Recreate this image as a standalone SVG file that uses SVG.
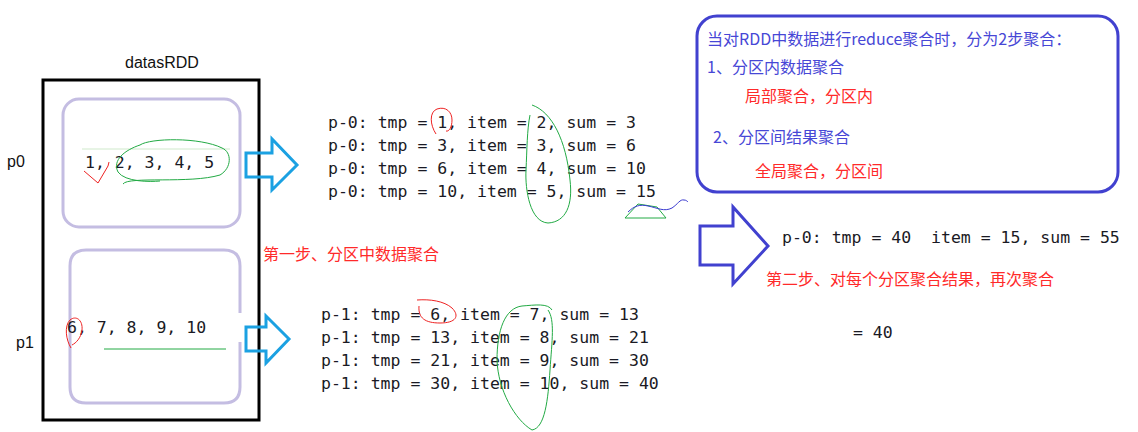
<svg xmlns="http://www.w3.org/2000/svg" width="1138" height="432" viewBox="0 0 1138 432">
<style>
.code{font-family:"DejaVu Sans Mono","Liberation Mono",monospace;font-size:16.5px;fill:#1a1a24}
.lbl{font-family:"Liberation Sans","Noto Sans CJK SC",sans-serif;font-size:16px;fill:#111}
.cn{font-family:"Noto Sans CJK SC","Liberation Sans",sans-serif;font-size:16px}
.red{fill:#ff2a2a}
.blu{fill:#4747d6}
.part{fill:none;stroke:#c4bde2;stroke-width:3}
.sky{fill:none;stroke:#1ba1e2;stroke-width:3;stroke-linejoin:miter}
.ink-r{fill:none;stroke:#ee2222;stroke-width:1}
.ink-g{fill:none;stroke:#22aa44;stroke-width:1}
.ink-b{fill:none;stroke:#3a3ad0;stroke-width:1}
</style>
<rect width="1138" height="432" fill="#fff"/>

<g id="datasRDD">
<text class="lbl" x="125" y="68">datasRDD</text>
<rect x="43" y="80" width="216" height="340" fill="none" stroke="#000" stroke-width="3"/>
</g>

<g id="p0">
<text class="lbl" x="7" y="167">p0</text>
<rect class="part" x="63" y="99" width="177" height="128" rx="16"/>
<line x1="82" y1="149" x2="230" y2="149" stroke="#dff0dc" stroke-width="1.5"/>
<text class="code" x="85" y="168">1, 2, 3, 4, 5</text>
<path class="ink-r" d="M84 171 L98 183 L108 166 L109 162"/>
<path class="ink-g" d="M123 184 C128 176,190 184,220 175 C232 168,232 152,222 148 C200 137,150 138,140 145 C125 150,112 160,118 172 C125 182,150 182,160 181"/>
</g>

<g id="p1">
<text class="lbl" x="16" y="348">p1</text>
<path class="part" d="M240 313 V266 Q240 250 224 250 H86 Q70 250 70 266 V387 Q70 403 86 403 H224 Q240 403 240 387 V342"/>
<text class="code" x="67" y="333">6, 7, 8, 9, 10</text>
<path class="ink-r" d="M71 348 C66 340,64 326,70 320 C76 315,83 320,82 330 C81 338,76 343,72 345"/>
<line class="ink-g" x1="104" y1="349" x2="226" y2="349"/>
</g>

<g id="connectors">
<path class="sky" d="M246 153 H272 V139 L297 165 L272 190 V177 H246 Z"/>
<path class="sky" d="M246 327 H266 V316 L289 339 L266 363 V351 H246 Z"/>
<path d="M700 226 H733 V207 L768 246 L733 284 V265 H700 Z" fill="none" stroke="#4141cf" stroke-width="3"/>
</g>

<g id="p0-steps">
<text class="code" x="328" y="128">p-0: tmp = 1, item = 2, sum = 3</text>
<text class="code" x="328" y="151">p-0: tmp = 3, item = 3, sum = 6</text>
<text class="code" x="328" y="174">p-0: tmp = 6, item = 4, sum = 10</text>
<text class="code" x="328" y="197">p-0: tmp = 10, item = 5, sum = 15</text>
<path class="ink-r" d="M436 134 C430 125,429 112,437 109 C446 106,452 112,452 120 C452 127,449 132,446 131"/>
<path class="ink-g" d="M532 105 C552 112,566 140,570 180 C573 205,566 222,548 223 C530 222,525 190,526 170 C527 150,527 130,530 115"/>
<path class="ink-g" d="M625 218 L638 204 L657 207 L666 218 Z"/>
<path class="ink-b" d="M628 212 C634 206,640 204,648 206 C658 208,664 212,672 208 C678 204,680 199,684 200 C686 200,687 201,688 202"/>
</g>

<text class="cn red" x="263" y="260">第一步、分区中数据聚合</text>

<g id="p1-steps">
<text class="code" x="321" y="320">p-1: tmp = 6, item = 7, sum = 13</text>
<text class="code" x="321" y="343">p-1: tmp = 13, item = 8, sum = 21</text>
<text class="code" x="321" y="366">p-1: tmp = 21, item = 9, sum = 30</text>
<text class="code" x="321" y="389">p-1: tmp = 30, item = 10, sum = 40</text>
<path class="ink-r" d="M417 300 C430 299,444 301,452 308 C460 316,456 323,440 323 C425 323,418 318,419 306"/>
<path class="ink-g" d="M552 310 C548 303,535 305,522 306 C505 308,497 330,497 360 C498 390,515 420,532 430 C545 428,548 400,550 370 C552 340,555 320,548 310"/>
</g>

<g id="info">
<rect x="697" y="16" width="421" height="176" rx="20" fill="none" stroke="#4141cf" stroke-width="3"/>
<text class="cn blu" x="707" y="45">当对RDD中数据进行reduce聚合时，分为2步聚合：</text>
<text class="cn blu" x="707" y="73">1、分区内数据聚合</text>
<text class="cn red" x="745" y="102">局部聚合，分区内</text>
<text class="cn blu" x="713" y="143">2、分区间结果聚合</text>
<text class="cn red" x="755" y="177">全局聚合，分区间</text>
</g>

<g id="result">
<text class="code" x="782" y="243" xml:space="preserve">p-0: tmp = 40  item = 15, sum = 55</text>
<text class="cn red" x="766" y="285">第二步、对每个分区聚合结果，再次聚合</text>
<text class="code" x="853" y="338">= 40</text>
</g>
</svg>
